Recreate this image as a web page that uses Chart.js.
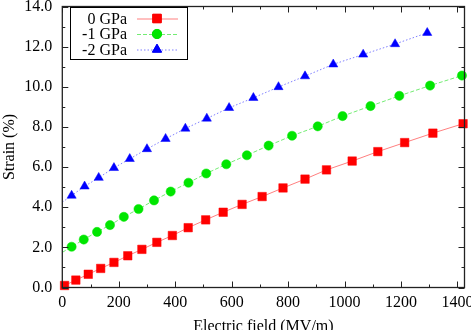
<!DOCTYPE html>
<html>
<head>
<meta charset="utf-8">
<script src="https://cdn.jsdelivr.net/npm/chart.js@4/dist/chart.umd.min.js"></script>
<style>
  html, body { margin: 0; padding: 0; background: #fff; }
  #wrap { width: 471px; height: 330px; }
</style>
</head>
<body>
<div id="wrap"><canvas id="strainChart"></canvas></div>
<script>
// Values
const seriesLabels = ['0 GPa', '-1 GPa', '-2 GPa'];

const field0 = [8, 48, 92, 136, 183, 232, 282, 335, 390, 446, 508, 570, 637, 708, 782, 860, 936, 1027, 1118, 1213, 1313, 1420];
const strain0 = [0.10, 0.37, 0.66, 0.95, 1.25, 1.58, 1.90, 2.25, 2.59, 2.98, 3.37, 3.75, 4.14, 4.53, 4.96, 5.40, 5.86, 6.30, 6.77, 7.22, 7.69, 8.16];

const field1 = [33, 76, 123, 169, 218, 270, 325, 384, 447, 510, 581, 654, 731, 814, 905, 993, 1092, 1194, 1303, 1416];
const strain1 = [2.03, 2.39, 2.77, 3.11, 3.52, 3.91, 4.34, 4.78, 5.22, 5.68, 6.14, 6.59, 7.07, 7.56, 8.03, 8.54, 9.04, 9.55, 10.06, 10.56];

const field2 = [33, 79, 129, 183, 239, 300, 366, 436, 512, 591, 677, 766, 860, 960, 1066, 1179, 1293];
const strain2 = [4.58, 5.04, 5.47, 5.96, 6.41, 6.90, 7.41, 7.92, 8.42, 8.95, 9.45, 9.99, 10.53, 11.12, 11.61, 12.13, 12.69];

// where each guide line meets the left axis
const lineStart = [0.0, 1.75, 4.25];

const xTickValues = [0, 200, 400, 600, 800, 1000, 1200, 1400];
const yTickValues = [0, 2, 4, 6, 8, 10, 12, 14];

const FONT = '"Liberation Serif", "DejaVu Serif", serif';

// Series styles (gnuplot-like)
const styles = [
    { color: 'rgb(255, 0, 0)', line: 'rgba(255, 0, 0, 0.5)', dash: [], shape: 'rect', radius: 6 },
    { color: 'rgb(0, 230, 0)', line: 'rgba(0, 220, 0, 0.55)', dash: [4, 2], shape: 'circle', radius: 4.6 },
    { color: 'rgb(0, 0, 255)', line: 'rgba(0, 0, 255, 0.5)', dash: [1.5, 2], shape: 'triangle', radius: 5.3 }
];

function makeDataset(i, xs, ys) {
    const s = styles[i];
    const pts = [{ x: 0, y: lineStart[i] }].concat(xs.map((x, k) => ({ x: x, y: ys[k] })));
    return {
        label: seriesLabels[i],
        data: pts,
        showLine: true,
        borderColor: s.line,
        borderWidth: 1,
        borderDash: s.dash,
        pointStyle: s.shape,
        pointRadius: ctx => ctx.dataIndex === 0 ? 0 : s.radius,
        pointHoverRadius: ctx => ctx.dataIndex === 0 ? 0 : s.radius,
        pointBackgroundColor: s.color,
        pointBorderColor: s.color,
        pointBorderWidth: 0.5,
        tension: 0,
        clip: false
    };
}

// Frame with inward major/minor ticks on all four sides
const framePlugin = {
    id: 'frame',
    afterDatasetsDraw(chart) {
        const { ctx, chartArea: a, scales: { x, y } } = chart;
        ctx.save();
        ctx.strokeStyle = '#222';
        ctx.lineWidth = 1;
        const major = 6, minor = 3;
        ctx.beginPath();
        xTickValues.forEach((v, i) => {
            const px = Math.round(x.getPixelForValue(v)) + 0.5;
            ctx.moveTo(px, a.bottom); ctx.lineTo(px, a.bottom - major);
            ctx.moveTo(px, a.top); ctx.lineTo(px, a.top + major);
            const m = v + 100;
            if (m < x.max) {
                const mx = Math.round(x.getPixelForValue(m)) + 0.5;
                ctx.moveTo(mx, a.bottom); ctx.lineTo(mx, a.bottom - minor);
                ctx.moveTo(mx, a.top); ctx.lineTo(mx, a.top + minor);
            }
        });
        yTickValues.forEach(v => {
            const py = Math.round(y.getPixelForValue(v)) + 0.5;
            ctx.moveTo(a.left, py); ctx.lineTo(a.left + major, py);
            ctx.moveTo(a.right, py); ctx.lineTo(a.right - major, py);
            const m = v + 1;
            if (m < y.max) {
                const my = Math.round(y.getPixelForValue(m)) + 0.5;
                ctx.moveTo(a.left, my); ctx.lineTo(a.left + minor, my);
                ctx.moveTo(a.right, my); ctx.lineTo(a.right - minor, my);
            }
        });
        ctx.stroke();
        ctx.lineWidth = 1.3;
        ctx.strokeRect(a.left, a.top, a.right - a.left, a.bottom - a.top);
        ctx.restore();
    }
};

// gnuplot style key: right-aligned text, sample line + marker to its right
const keyPlugin = {
    id: 'key',
    afterDraw(chart) {
        const ctx = chart.ctx;
        const box = { x: 70.5, y: 7.5, w: 117, h: 52 };
        const rows = [18.5, 34, 49.5];
        ctx.save();
        ctx.fillStyle = '#fff';
        ctx.fillRect(box.x, box.y, box.w, box.h);
        ctx.strokeStyle = '#000';
        ctx.lineWidth = 1;
        ctx.strokeRect(box.x, box.y, box.w, box.h);
        ctx.font = '16px ' + FONT;
        ctx.textAlign = 'right';
        ctx.textBaseline = 'middle';
        chart.data.datasets.forEach((ds, i) => {
            const s = styles[i];
            const yy = rows[i];
            ctx.fillStyle = '#000';
            ctx.fillText(ds.label, 127, yy + 1);
            ctx.strokeStyle = s.line;
            ctx.setLineDash(s.dash);
            ctx.beginPath();
            ctx.moveTo(137, yy + 0.5);
            ctx.lineTo(178, yy + 0.5);
            ctx.stroke();
            ctx.setLineDash([]);
            Chart.helpers.drawPoint(ctx, {
                pointStyle: s.shape, radius: s.radius, borderWidth: 0.5, rotation: 0
            }, 157, yy);
            ctx.fillStyle = s.color;
            ctx.strokeStyle = s.color;
            ctx.fill();
            ctx.stroke();
        });
        ctx.restore();
    }
};

const fitSize = (w, h) => scale => {
    if (w !== null) scale.width = w;
    if (h !== null) scale.height = h;
    scale.paddingLeft = 0;
    scale.paddingRight = 0;
    scale.paddingTop = 0;
    scale.paddingBottom = 0;
};

new Chart(document.getElementById('strainChart'), {
    type: 'scatter',
    data: {
        datasets: [
            makeDataset(0, field0, strain0),
            makeDataset(1, field1, strain1),
            makeDataset(2, field2, strain2)
        ]
    },
    options: {
        responsive: true,
        maintainAspectRatio: false,
        animation: false,
        layout: { padding: { left: 0, right: 5.3, top: 2.5, bottom: 0 } },
        plugins: {
            legend: { display: false },
            tooltip: { enabled: false }
        },
        scales: {
            x: {
                type: 'linear',
                min: 0,
                max: 1425,
                afterBuildTicks: s => { s.ticks = xTickValues.map(v => ({ value: v })); },
                afterFit: fitSize(null, 42.5),
                grid: { display: false, drawTicks: false },
                border: { display: false },
                ticks: {
                    color: '#000',
                    padding: 6,
                    maxRotation: 0,
                    autoSkip: false,
                    font: { family: FONT, size: 16 },
                    callback: v => String(v)
                },
                title: {
                    display: true,
                    text: 'Electric field (MV/m)',
                    color: '#000',
                    font: { family: FONT, size: 16 },
                    padding: { top: 0, bottom: -6 }
                }
            },
            y: {
                type: 'linear',
                min: 0,
                max: 14,
                afterBuildTicks: s => { s.ticks = yTickValues.map(v => ({ value: v })); },
                afterFit: fitSize(62.3, null),
                grid: { display: false, drawTicks: false },
                border: { display: false },
                ticks: {
                    color: '#000',
                    padding: 10,
                    autoSkip: false,
                    font: { family: FONT, size: 16 },
                    callback: v => v.toFixed(1)
                },
                title: {
                    display: true,
                    text: 'Strain (%)',
                    color: '#000',
                    font: { family: FONT, size: 16 },
                    padding: { top: 0, bottom: 0 }
                }
            }
        }
    },
    plugins: [framePlugin, keyPlugin]
});
</script>
</body>
</html>
